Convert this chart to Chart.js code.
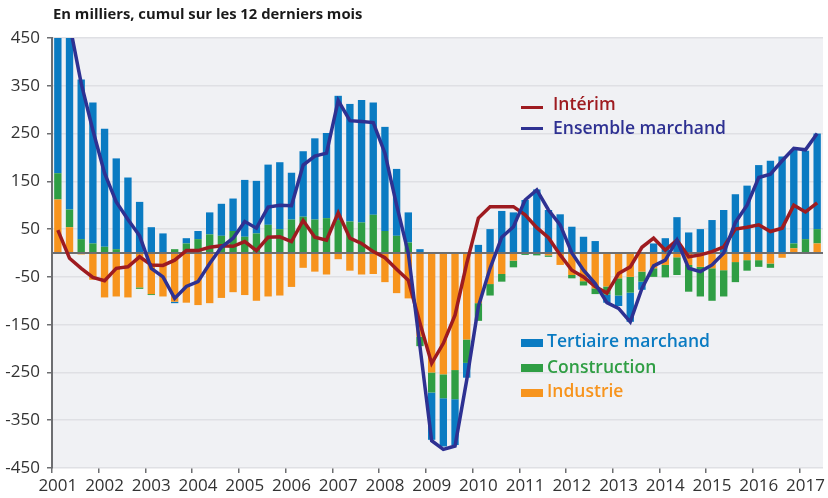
<!DOCTYPE html>
<html lang="fr">
<head>
  <meta charset="UTF-8">
  <title>Emploi marchand, cumul sur 12 mois</title>
  <style>
    body { margin: 0; background: #fff; }
    .wrap { position: relative; width: 828px; height: 498px; font-family: 'Open Sans', sans-serif; }
    .title { position: absolute; left: 53px; top: 6px; font-size: 14.8px; line-height: 15px; font-weight: 700; color: #1a1a1a; white-space: nowrap; }
    .leg { position: absolute; font-size: 17.5px; line-height: 18px; font-weight: 600; white-space: nowrap; }
    .mark { position: absolute; width: 22px; }
  </style>
  <script src="https://cdn.jsdelivr.net/npm/chart.js"></script>
</head>
<body>
  <div class="wrap">
    <canvas id="chart" width="828" height="498"></canvas>
    <div class="title">En milliers, cumul sur les 12 derniers mois</div>

    <span class="mark" style="left:521px; top:106px; height:3px; background:#9e1b20"></span>
    <div class="leg" style="left:553px; top:94px; color:#9e1b20">Intérim</div>
    <span class="mark" style="left:521px; top:127px; height:3px; background:#2e3192"></span>
    <div class="leg" style="left:553px; top:118px; color:#2e3192">Ensemble marchand</div>

    <span class="mark" style="left:521px; top:339px; height:8px; background:#0a7bc2"></span>
    <div class="leg" style="left:547px; top:331px; color:#0a7bc2">Tertiaire marchand</div>
    <span class="mark" style="left:521px; top:364px; height:8px; background:#2f9e44"></span>
    <div class="leg" style="left:547px; top:357px; color:#2f9e44">Construction</div>
    <span class="mark" style="left:521px; top:389px; height:8px; background:#f7941d"></span>
    <div class="leg" style="left:547px; top:381px; color:#f7941d">Industrie</div>
  </div>

  <script>
    // quarters 2001T1 .. 2017T2
    const years = [2001, 2002, 2003, 2004, 2005, 2006, 2007, 2008, 2009, 2010, 2011, 2012, 2013, 2014, 2015, 2016, 2017];
    const quarterNames = ['T1', 'T2', 'T3', 'T4'];
    const quarters = years.flatMap(y => quarterNames.map(q => y + q)).slice(0, 66);

    const industrie = [
      112, 54, -3, -56, -93, -91, -93, -72, -86, -91, -102, -104, -109, -105, -94, -82,
      -88, -100, -91, -89, -71, -31, -39, -45, -13, -37, -45, -44, -61, -84, -95, -175,
      -250, -254, -245, -181, -105, -65, -44, -16, 0, -2, -5, -25, -46, -59, -74, -70,
      -53, -50, -39, -32, -25, -9, -25, -29, -32, -36, -19, -15, -15, -22, -10, 10,
      2, 20
    ];
    const construction = [
      55, 37, 29, 20, 13, 8, 2, -3, -2, 0, 8, 20, 29, 39, 36, 46,
      34, 41, 59, 50, 70, 76, 70, 73, 69, 66, 64, 80, 46, 36, 22, -20,
      -42, -50, -61, -49, -37, -24, -16, -14, -4, -3, -3, 0, -7, -9, -12, -17,
      -36, -33, -21, -18, -26, -37, -56, -62, -68, -55, -42, -22, -14, -9, 0, 10,
      27, 30
    ];
    const tertiaire = [
      330, 390, 334, 295, 247, 190, 156, 107, 54, 41, -3, 11, 17, 46, 67, 68,
      119, 110, 126, 140, 98, 137, 170, 178, 260, 246, 256, 235, 218, 140, 63, 8,
      -99, -101, -96, -31, 17, 50, 88, 85, 111, 133, 90, 81, 55, 34, 25, -17,
      -22, -61, -17, 20, 31, 75, 43, 50, 69, 90, 123, 141, 184, 193, 202, 196,
      185, 200
    ];
    const interim = [
      48, -11, -32, -51, -58, -32, -29, -8, -25, -26, -15, 5, 5, 12, 15, 14,
      24, 5, 33, 34, 24, 68, 33, 27, 84, 31, 20, 3, -10, -34, -57, -147,
      -231, -189, -130, -22, 73, 97, 97, 97, 80, 53, 32, -4, -36, -50, -70, -84,
      -43, -29, 12, 31, 6, 27, -8, -4, 3, 13, 50, 54, 59, 45, 52, 100,
      86, 105
    ];
    const ensemble = [
      500, 480, 355, 257, 167, 107, 70, 36, -32, -50, -95, -70, -60, -22, 12, 31,
      66, 52, 96, 100, 99, 184, 203, 209, 319, 277, 275, 273, 209, 100, 0, -196,
      -393, -411, -404, -266, -112, -32, 33, 55, 111, 132, 90, 59, 0, -36, -64, -104,
      -116, -144, -74, -27, -15, 27, -32, -39, -25, 0, 64, 100, 158, 165, 193, 219,
      216, 250
    ];

    const plotBg = {
      id: 'plotBg',
      beforeDraw(chart) {
        const { ctx, chartArea: a } = chart;
        ctx.save();
        ctx.fillStyle = '#f0f1f4';
        ctx.fillRect(a.left, a.top, a.right - a.left, a.bottom - a.top);
        ctx.restore();
      }
    };

    // zero line goes over the bars but under the curves
    const zeroLine = {
      id: 'zeroLine',
      beforeDatasetsDraw(chart) { chart.$zeroDone = false; },
      beforeDatasetDraw(chart, args) {
        if (chart.$zeroDone || args.meta.type !== 'line') return;
        chart.$zeroDone = true;
        const { ctx, chartArea: a } = chart;
        const y = chart.scales.y.getPixelForValue(0);
        ctx.save();
        ctx.strokeStyle = '#6d6e71';
        ctx.lineWidth = 2;
        ctx.beginPath();
        ctx.moveTo(a.left, y);
        ctx.lineTo(a.right, y);
        ctx.stroke();
        ctx.restore();
      }
    };

    const barOpts = { type: 'bar', stack: 'bars', order: 2, barPercentage: 0.63, categoryPercentage: 1, borderWidth: 0 };

    new Chart(document.getElementById('chart'), {
      data: {
        labels: quarters,
        datasets: [
          { ...barOpts, label: 'Industrie', data: industrie, backgroundColor: '#f7941d' },
          { ...barOpts, label: 'Construction', data: construction, backgroundColor: '#2f9e44' },
          { ...barOpts, label: 'Tertiaire marchand', data: tertiaire, backgroundColor: '#0a7bc2' },
          { type: 'line', label: 'Intérim', data: interim, stack: 'l1', order: 1,
            borderColor: '#9e1b20', borderWidth: 3.5, pointRadius: 0, tension: 0 },
          { type: 'line', label: 'Ensemble marchand', data: ensemble, stack: 'l2', order: 0,
            borderColor: '#2e3192', borderWidth: 3.5, pointRadius: 0, tension: 0 }
        ]
      },
      options: {
        responsive: false,
        animation: false,
        layout: { padding: { top: 38, right: 5, left: 0, bottom: 0 } },
        plugins: { legend: { display: false }, tooltip: { enabled: false } },
        scales: {
          x: {
            stacked: true,
            offset: true,
            afterFit(scale) { scale.height = 30; },
            border: { display: false },
            grid: {
              offset: true,
              drawOnChartArea: false,
              tickLength: 5,
              lineWidth: 1.5,
              color: ctx => ctx.index % 4 === 0 ? '#6d6e71' : 'rgba(0,0,0,0)'
            },
            ticks: {
              autoSkip: false,
              maxRotation: 0,
              padding: 3,
              color: '#333',
              font: { family: 'Open Sans', size: 17 },
              callback(value, index) {
                return index % 4 === 0 ? String(this.getLabelForValue(value)).slice(0, 4) : '';
              }
            }
          },
          y: {
            stacked: true,
            min: -450,
            max: 450,
            afterFit(scale) { scale.width = 52; },
            border: { display: true, color: '#6d6e71', width: 2 },
            grid: { color: '#dfe0e4', lineWidth: 1.5, tickLength: 5, tickColor: '#6d6e71', tickWidth: 1.5 },
            ticks: {
              stepSize: 100,
              padding: 7,
              color: '#333',
              font: { family: 'Open Sans', size: 17 }
            }
          }
        }
      },
      plugins: [plotBg, zeroLine]
    });
  </script>
</body>
</html>
